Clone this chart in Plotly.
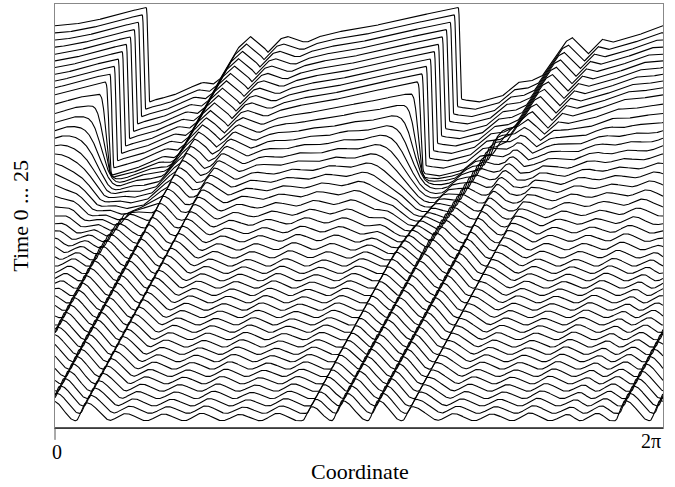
import numpy as np
import plotly.graph_objects as go

# ---------------- data ----------------
times = [0.0, 0.5, 1.0, 1.5, 2.0, 2.5, 3.0, 3.5, 4.0, 4.5, 5.0, 5.5, 6.0, 6.5, 7.0, 7.5,
         8.0, 8.5, 9.0, 9.5, 10.0, 10.5, 11.0, 11.5, 12.0, 12.5, 13.0, 13.5, 14.0, 14.5,
         15.0, 15.5, 16.0, 16.5, 17.0, 17.5, 18.0, 18.5, 19.0, 19.5, 20.0, 20.5, 21.0,
         21.5, 22.0, 22.5, 23.0, 23.5, 24.0, 24.5, 25.0]

# last profile (t = 25): coordinate / plotted height
top_x = [0, 0.155, 0.289, 0.393, 0.537, 0.641, 0.775, 0.951, 0.971, 1.054, 1.188, 1.323,
         1.426, 1.529, 1.633, 1.705, 1.881, 2.015, 2.149, 2.201, 2.325, 2.398, 2.532, 2.604,
         2.708, 2.894, 3.235, 3.586, 3.927, 4.175, 4.196, 4.371, 4.619, 4.785, 4.909, 5.033,
         5.270, 5.343, 5.508, 5.653, 5.756, 5.994, 6.283]
top_y = [26.40, 26.45, 26.60, 26.70, 26.97, 27.17, 27.38, 27.65, 21.20, 21.40, 21.60, 21.94,
         22.28, 22.55, 22.42, 22.76, 24.80, 25.68, 25.00, 24.59, 25.48, 25.68, 25.34, 25.27,
         25.61, 25.95, 26.29, 26.83, 27.31, 27.65, 21.40, 21.20, 21.60, 22.55, 22.62, 22.96,
         25.27, 25.61, 24.46, 25.48, 25.27, 25.68, 26.40]

# early profiles (t = 0): rising fronts, their height and rise width
front_x = [0.269, 0.641, 1.033, 1.426, 1.819, 2.211, 2.604, 2.914, 3.286, 3.638, 4.030,
           4.423, 4.816, 5.208, 5.518, 5.839, 6.200]
front_h = [1.22, 0.48, 0.45, 0.50, 0.42, 0.50, 0.95, 1.36, 1.36, 0.95, 0.48, 0.45, 0.52,
           0.42, 0.50, 1.36, 1.36]
front_w = [0.11, 0.18, 0.18, 0.18, 0.18, 0.18, 0.10, 0.11, 0.11, 0.10, 0.18, 0.18, 0.18,
           0.18, 0.18, 0.11, 0.11]
# time at which a front dies out (merges into a steep drop); 99 = lasts
front_end = [99, 99, 99, 99, 99, 99, 99, 99, 99, 99, 99, 99, 99, 99, 99, 15.5, 99]
# time up to which a front survives next to a steep drop; 0 = not
front_keep = [0, 0, 0, 0, 0, 0, 0, 20.5, 0, 0, 0, 0, 0, 0, 0, 0, 0]

# drift of the whole pattern to the right (coordinate per time unit)
drift = 0.0827
# positions of the two steep drops in the drifting frame
drop_x = [5.177, 2.118]

# how far each profile has turned into the steep-drop shape, and its smoothing width
shock_weight = [0]*22 + [0.03, 0.06, 0.10, 0.14, 0.19, 0.24, 0.30, 0.36, 0.41, 0.46, 0.51,
                         0.56, 0.61, 0.66, 0.71, 0.77, 0.84, 0.92] + [1.0]*11
shock_blur = [0.50]*29 + [0.47, 0.44, 0.41, 0.38, 0.35, 0.32, 0.28, 0.24, 0.19, 0.13, 0.07,
                          0.03, 0.015] + [0.01]*9

# ---------------- construction ----------------
TWO_PI = 2 * np.pi
N = 1216
xg = np.linspace(0, TWO_PI, N, endpoint=False)
dx = TWO_PI / N


def wrap(u):
    return (u + np.pi) % TWO_PI - np.pi


def tooth(xi, j):
    n = len(front_x)
    p, w = front_x[j], front_w[j]
    gap = (front_x[(j + 1) % n] - p) % TWO_PI
    L = gap - w
    h = np.zeros_like(xi)
    u = (xi - p + w / 2) % TWO_PI - w / 2
    r = (u >= -w / 2) & (u <= w / 2)
    h[r] = 0.5 * (1 - np.cos(np.pi * (u[r] + w / 2) / w))
    f = (u > w / 2) & (u <= w / 2 + L)
    h[f] = 0.5 * (1 + np.cos(np.pi * (u[f] - w / 2) / L))
    return h


tooth_basis = [front_h[j] * tooth(xg, j) for j in range(len(front_x))]

top_fine = np.interp(xg, top_x, top_y)
top_rel = top_fine - top_fine.mean()
xi_top = (xg - drift * times[-1]) % TWO_PI
order = np.argsort(xi_top)
tmpl = np.interp(xg, xi_top[order], top_rel[order], period=TWO_PI)

# window around the drops where smoothing applies
wnd = np.zeros_like(xg)
for d in drop_x:
    a = np.abs(wrap(xg - d))
    w1 = np.clip((0.85 - a) / 0.30, 0, 1)
    wnd = np.maximum(wnd, 0.5 - 0.5 * np.cos(np.pi * w1))

freqs = np.fft.fftfreq(N, d=dx) * TWO_PI
T_hat = np.fft.fft(tmpl)

fig = go.Figure()
x_plot = np.append(xg, TWO_PI)
for k, t in enumerate(times):
    sg = shock_weight[k]
    s = shock_blur[k]
    lag = 0.3 * s if s > 0.02 else 0.0
    kern = np.exp(-0.5 * (freqs * s / 2.5) ** 2) * np.exp(-1j * freqs * lag)
    blurred = np.real(np.fft.ifft(T_hat * kern))
    sm = tmpl + wnd * (blurred - tmpl)
    teeth = np.zeros_like(xg)
    for j in range(len(front_x)):
        life = np.clip((front_end[j] - t) / 2.0, 0, 1)
        keep = np.clip((front_keep[j] - t) / 1.0, 0, 1)
        teeth += ((1 - sg) * life + sg * keep) * tooth_basis[j]
    teeth -= teeth.mean()
    prof = teeth + sg * sm
    xi = (xg - drift * t) % TWO_PI
    y = t + np.interp(xi, xg, prof, period=TWO_PI)
    y = np.append(y, y[0])
    fig.add_trace(go.Scatter(x=x_plot, y=y, mode="lines",
                             line=dict(color="black", width=1.1),
                             hoverinfo="skip", showlegend=False))

YMIN, YMAX = -0.883, 27.92
fig.update_layout(
    width=675, height=487,
    margin=dict(l=55, r=12, t=4, b=59),
    paper_bgcolor="white", plot_bgcolor="white",
    font=dict(family="Liberation Serif, Times New Roman, serif", color="black"),
    xaxis=dict(range=[0, TWO_PI], showgrid=False, zeroline=False, showticklabels=False,
               ticks="", showline=True, linecolor="#888", linewidth=1, mirror=True),
    yaxis=dict(range=[YMIN, YMAX], showgrid=False, zeroline=False, showticklabels=False,
               ticks="", showline=True, linecolor="#888", linewidth=1, mirror=True),
    shapes=[
        dict(type="line", xref="paper", yref="paper", x0=0, x1=1, y0=0, y1=0,
             line=dict(color="#222", width=1.6)),
        dict(type="line", xref="paper", yref="paper", x0=0, x1=0, y0=0, y1=-0.028,
             line=dict(color="#555", width=1)),
    ],
    annotations=[
        dict(text="0", xref="paper", yref="paper", x=0.003, y=-0.057, showarrow=False,
             xanchor="center", yanchor="middle", font=dict(size=20)),
        dict(text="2π", xref="paper", yref="paper", x=0.98, y=-0.031, showarrow=False,
             xanchor="center", yanchor="middle", font=dict(size=20)),
        dict(text="Coordinate", xref="paper", yref="paper", x=0.502, y=-0.102,
             showarrow=False, xanchor="center", yanchor="middle", font=dict(size=22)),
        dict(text="Time 0 ... 25", xref="paper", yref="paper", x=-0.058, y=0.50,
             showarrow=False, xanchor="center", yanchor="middle", textangle=-90,
             font=dict(size=22)),
    ],
)
fig.write_html("out.html", config={"displayModeBar": False, "staticPlot": True},
               post_script="document.body.style.margin='0px';document.body.style.padding='0px';")
